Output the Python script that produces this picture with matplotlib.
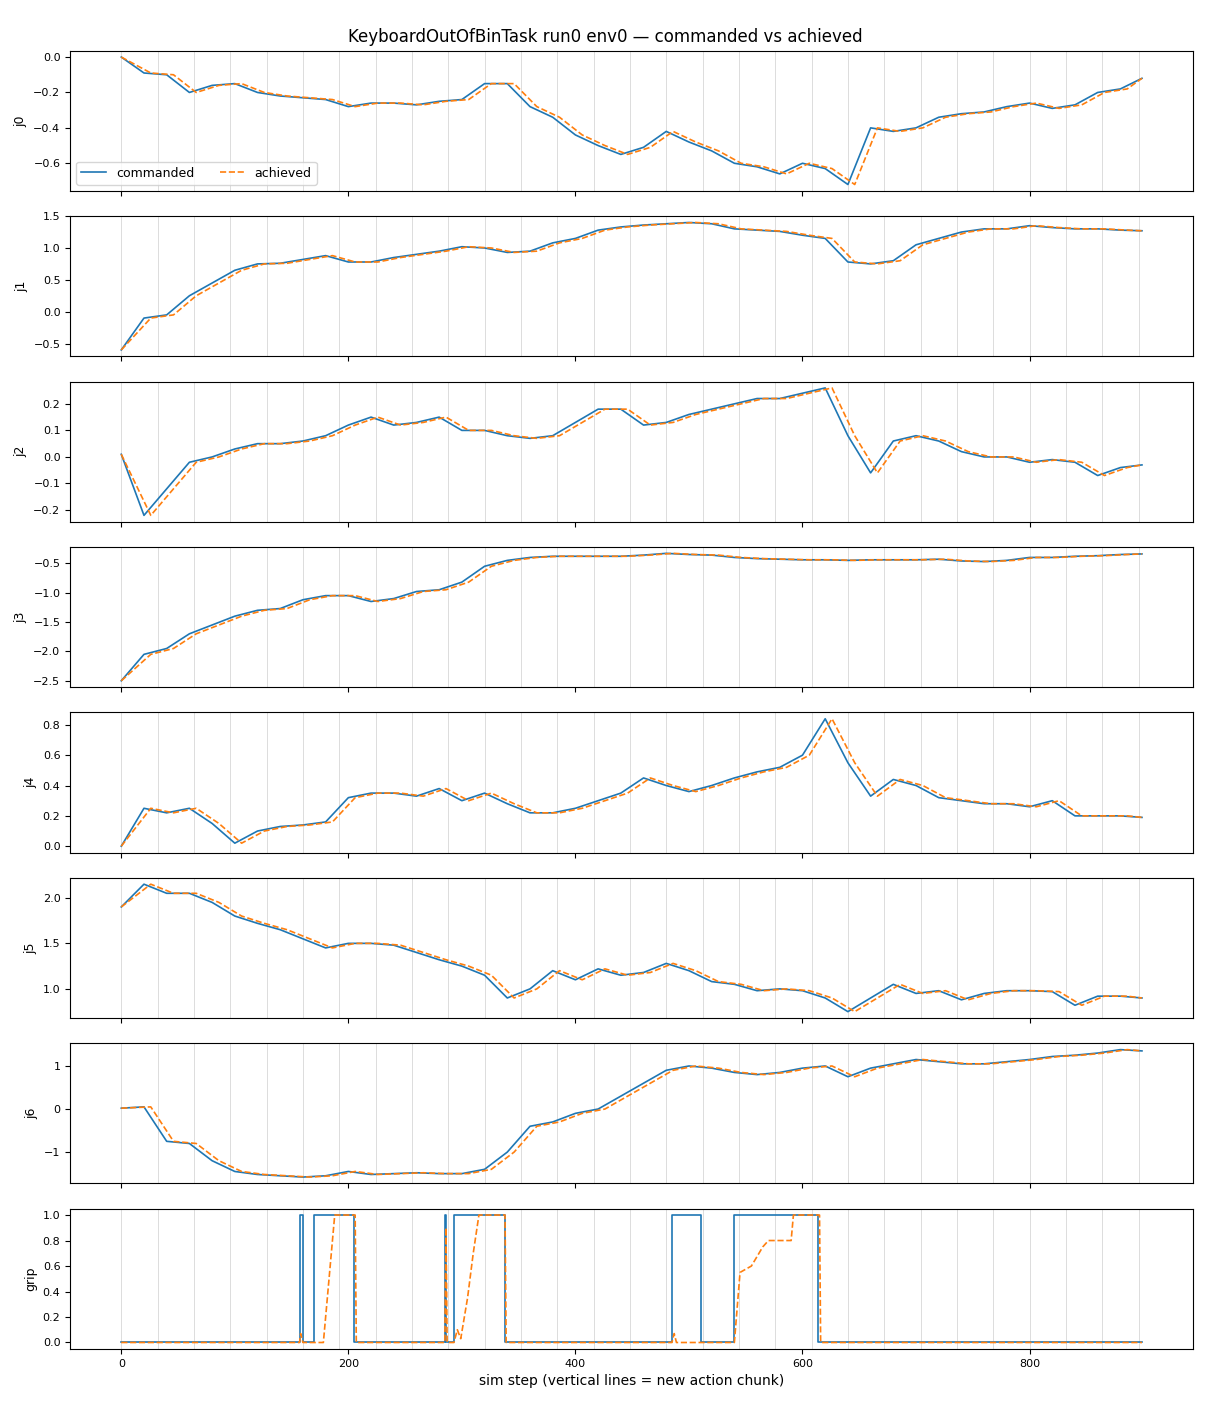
import matplotlib
matplotlib.use("Agg")
import matplotlib.pyplot as plt

STEPS = list(range(0, 900, 20)) + [899]
ACH_STEPS = [0] + list(range(26, 900, 20)) + [899]
ACH_STEPS = ACH_STEPS[:45] + [899]

J0 = [0, -0.09, -0.10, -0.20, -0.16, -0.15, -0.20, -0.22, -0.23, -0.24, -0.28, -0.26, -0.26, -0.27, -0.25,
      -0.24, -0.15, -0.15, -0.28, -0.34, -0.44, -0.50, -0.55, -0.51, -0.42, -0.48, -0.53, -0.60, -0.62, -0.66,
      -0.60, -0.63, -0.72, -0.40, -0.42, -0.40, -0.34, -0.32, -0.31, -0.28, -0.26, -0.29, -0.27, -0.20, -0.18, -0.12]
J1 = [-0.6, -0.1, -0.05, 0.25, 0.45, 0.65, 0.75, 0.76, 0.82, 0.88, 0.78, 0.78, 0.85, 0.9, 0.95,
      1.02, 1.0, 0.93, 0.95, 1.08, 1.15, 1.28, 1.33, 1.36, 1.38, 1.4, 1.38, 1.3, 1.28, 1.26,
      1.2, 1.15, 0.78, 0.75, 0.8, 1.05, 1.15, 1.25, 1.3, 1.3, 1.35, 1.32, 1.3, 1.3, 1.28, 1.27]
J2 = [0.01, -0.22, -0.12, -0.02, 0.0, 0.03, 0.05, 0.05, 0.06, 0.08, 0.12, 0.15, 0.12, 0.13, 0.15,
      0.1, 0.1, 0.08, 0.07, 0.08, 0.13, 0.18, 0.18, 0.12, 0.13, 0.16, 0.18, 0.2, 0.22, 0.22,
      0.24, 0.26, 0.08, -0.06, 0.06, 0.08, 0.06, 0.02, 0.0, 0.0, -0.02, -0.01, -0.02, -0.07, -0.04, -0.03]
J3 = [-2.5, -2.05, -1.95, -1.7, -1.55, -1.4, -1.3, -1.27, -1.12, -1.05, -1.05, -1.15, -1.1, -0.98, -0.95,
      -0.82, -0.55, -0.45, -0.4, -0.38, -0.38, -0.38, -0.38, -0.36, -0.33, -0.35, -0.36, -0.4, -0.42, -0.43,
      -0.44, -0.44, -0.45, -0.44, -0.44, -0.44, -0.43, -0.46, -0.47, -0.45, -0.4, -0.4, -0.38, -0.37, -0.35, -0.34]
J4 = [0.0, 0.25, 0.22, 0.25, 0.15, 0.02, 0.1, 0.13, 0.14, 0.16, 0.32, 0.35, 0.35, 0.33, 0.38,
      0.3, 0.35, 0.28, 0.22, 0.22, 0.25, 0.3, 0.35, 0.45, 0.4, 0.36, 0.4, 0.45, 0.49, 0.52,
      0.6, 0.84, 0.55, 0.33, 0.44, 0.4, 0.32, 0.3, 0.28, 0.28, 0.26, 0.3, 0.2, 0.2, 0.2, 0.19]
J5 = [1.9, 2.15, 2.05, 2.05, 1.95, 1.8, 1.72, 1.65, 1.55, 1.45, 1.5, 1.5, 1.48, 1.4, 1.32,
      1.25, 1.15, 0.9, 1.0, 1.2, 1.1, 1.22, 1.15, 1.18, 1.28, 1.2, 1.08, 1.05, 0.98, 1.0,
      0.98, 0.9, 0.75, 0.9, 1.05, 0.95, 0.98, 0.88, 0.95, 0.98, 0.98, 0.97, 0.82, 0.92, 0.92, 0.9]
J6 = [0.02, 0.05, -0.75, -0.8, -1.2, -1.45, -1.52, -1.55, -1.58, -1.55, -1.45, -1.52, -1.5, -1.48, -1.5,
      -1.5, -1.4, -1.0, -0.4, -0.3, -0.1, 0.0, 0.3, 0.6, 0.9, 1.0, 0.95, 0.85, 0.8, 0.85,
      0.95, 1.0, 0.75, 0.95, 1.05, 1.15, 1.1, 1.05, 1.05, 1.1, 1.15, 1.22, 1.25, 1.3, 1.38, 1.35]

GRIP_CMD_X = [0, 157, 157, 160, 160, 170, 170, 205, 205, 285, 285, 286, 286, 293, 293, 338, 338,
              485, 485, 511, 511, 540, 540, 614, 614, 899]
GRIP_CMD_Y = [0, 0, 1, 1, 0, 0, 1, 1, 0, 0, 1, 1, 0, 0, 1, 1, 0,
              0, 1, 1, 0, 0, 1, 1, 0, 0]
GRIP_ACH_X = [0, 157, 158, 160, 178, 183, 188, 206, 207, 285, 286, 287, 293, 296, 299, 305, 310, 315, 338, 339,
              485, 487, 489, 540, 545, 555, 565, 570, 590, 592, 615, 616, 899]
GRIP_ACH_Y = [0, 0, 0.07, 0, 0, 0.5, 1, 1, 0, 0, 0.9, 0, 0, 0.1, 0.03, 0.35, 0.7, 1, 1, 0,
              0, 0.07, 0, 0, 0.55, 0.6, 0.75, 0.8, 0.8, 1, 1, 0, 0]

LABELS = ["j0", "j1", "j2", "j3", "j4", "j5", "j6", "grip"]
SERIES = [J0, J1, J2, J3, J4, J5, J6]
CHUNK = 32

fig, axes = plt.subplots(8, 1, figsize=(12.1, 14.08), dpi=100, sharex=True)
fig.subplots_adjust(left=0.058, right=0.986, top=0.964, bottom=0.042, hspace=0.18)
fig.suptitle("KeyboardOutOfBinTask run0 env0 \u2014 commanded vs achieved", fontsize=12, y=0.98)

for i, ax in enumerate(axes):
    for c in range(0, 900, CHUNK):
        ax.axvline(c, color="#dcdcdc", lw=0.7, zorder=0)
    if i < 7:
        ax.plot(STEPS, SERIES[i], color="#1f77b4", lw=1.2, label="commanded")
        ax.plot(ACH_STEPS, SERIES[i], color="#ff7f0e", lw=1.2, ls="--", label="achieved")
    else:
        ax.plot(GRIP_CMD_X, GRIP_CMD_Y, color="#1f77b4", lw=1.2)
        ax.plot(GRIP_ACH_X, GRIP_ACH_Y, color="#ff7f0e", lw=1.2, ls="--")
    ax.set_ylabel(LABELS[i], fontsize=9)
    ax.tick_params(labelsize=8)
    ax.set_xlim(-45, 944)

axes[0].legend(loc="lower left", ncol=2, fontsize=9)
axes[-1].set_xticks([0, 200, 400, 600, 800])
axes[-1].set_xlabel("sim step (vertical lines = new action chunk)", fontsize=10)
fig.savefig("out.png")
